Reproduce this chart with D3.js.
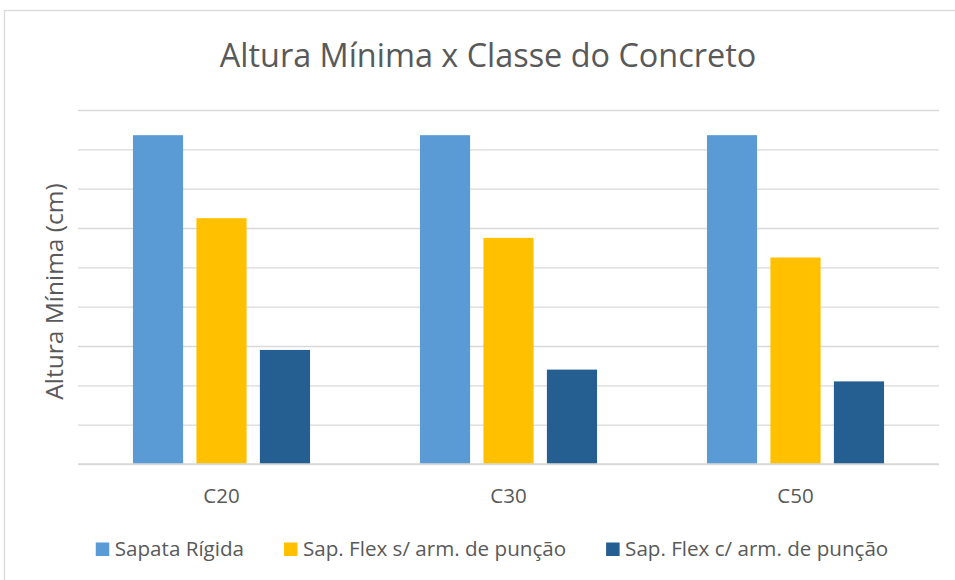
<!DOCTYPE html>
<html><head><meta charset="utf-8">
<script src="https://cdn.jsdelivr.net/npm/d3@7"></script>
<style>html,body{margin:0;padding:0;background:#fff;}svg{display:block;font-family:"Open Sans",sans-serif;}</style>
</head><body>
<svg id="c" width="955" height="580"></svg>
<script>
const categories = ["C20", "C30", "C50"];
const seriesNames = ["Sapata Rígida", "Sap. Flex s/ arm. de punção", "Sap. Flex c/ arm. de punção"];
const sapataRigida = [83.6, 83.6, 83.6];
const flexSemArm = [62.5, 57.5, 52.5];
const flexComArm = [29.0, 24.0, 21.0];
const yTicks = [0, 10, 20, 30, 40, 50, 60, 70, 80, 90];
const colors = ["#5b9bd5", "#ffc000", "#255e91"];
const title = "Altura Mínima x Classe do Concreto";
const yTitle = "Altura Mínima (cm)";

const seriesValues = [sapataRigida, flexSemArm, flexComArm];
const svg = d3.select("#c");
const textColor = "#595959";

// chart border
svg.append("rect").attr("x", 4.5).attr("y", 10.5).attr("width", 980).attr("height", 600)
  .attr("fill", "#fff").attr("stroke", "#d9d9d9").attr("stroke-width", 1.3);

const plot = {left: 78, right: 939, top: 110, bottom: 464};
const x = d3.scaleBand().domain(categories).range([plot.left, plot.right]).padding(0);
const groupW = x.bandwidth() * 0.617;
const xs = d3.scaleBand().domain(d3.range(seriesNames.length)).range([0, groupW]).paddingInner(0.21).paddingOuter(0);
const y = d3.scaleLinear().domain([0, 90]).range([plot.bottom, plot.top]);

// gridlines
const yAxis = d3.axisLeft(y).tickValues(yTicks).tickSize(-(plot.right - plot.left)).tickFormat("");
const ga = svg.append("g").attr("transform", `translate(${plot.left},0)`).call(yAxis);
ga.select(".domain").remove();
ga.selectAll(".tick line").attr("stroke", "#d9d9d9").attr("stroke-width", 1.3);

// bars
categories.forEach((c, ci) => {
  const gx = x(c) + (x.bandwidth() - groupW) / 2;
  svg.append("g").selectAll("rect").data(seriesValues.map((s, si) => ({si, v: s[ci]})))
    .join("rect")
    .attr("x", d => gx + xs(d.si))
    .attr("width", xs.bandwidth())
    .attr("y", d => y(d.v))
    .attr("height", d => y(0) - y(d.v))
    .attr("fill", d => colors[d.si]);
});

// baseline
svg.append("line").attr("x1", plot.left).attr("x2", plot.right).attr("y1", y(0)).attr("y2", y(0))
  .attr("stroke", "#d9d9d9").attr("stroke-width", 1.3);

// x axis labels
const xAxis = d3.axisBottom(x).tickSize(0).tickPadding(0);
const gx = svg.append("g").attr("transform", `translate(0,${plot.bottom})`).call(xAxis);
gx.select(".domain").remove();
gx.selectAll(".tick text").attr("dy", null).attr("y", 38.5)
  .attr("font-family", "Open Sans").attr("font-size", 20.5).attr("fill", textColor);

// title
svg.append("text").attr("x", 488).attr("y", 67).attr("text-anchor", "middle")
  .attr("font-size", 32.4).attr("fill", textColor).text(title);

// y axis title
svg.append("text").attr("transform", `translate(63,291.5) rotate(-90)`).attr("text-anchor", "middle")
  .attr("font-size", 24.5).attr("fill", textColor).text(yTitle);

// legend
const lg = svg.append("g");
let cx = 0;
seriesNames.forEach((n, i) => {
  const g = lg.append("g");
  g.append("rect").attr("x", cx).attr("y", 542.5).attr("width", 13.5).attr("height", 13.5).attr("fill", colors[i]);
  const t = g.append("text").attr("x", cx + 19).attr("y", 555.5).attr("font-size", 20.6).attr("fill", textColor).text(n);
  const w = t.node().getComputedTextLength();
  cx += 19 + w + (i < seriesNames.length - 1 ? 40 : 0);
});
lg.attr("transform", `translate(${492 - cx / 2},0)`);
</script>
</body></html>
